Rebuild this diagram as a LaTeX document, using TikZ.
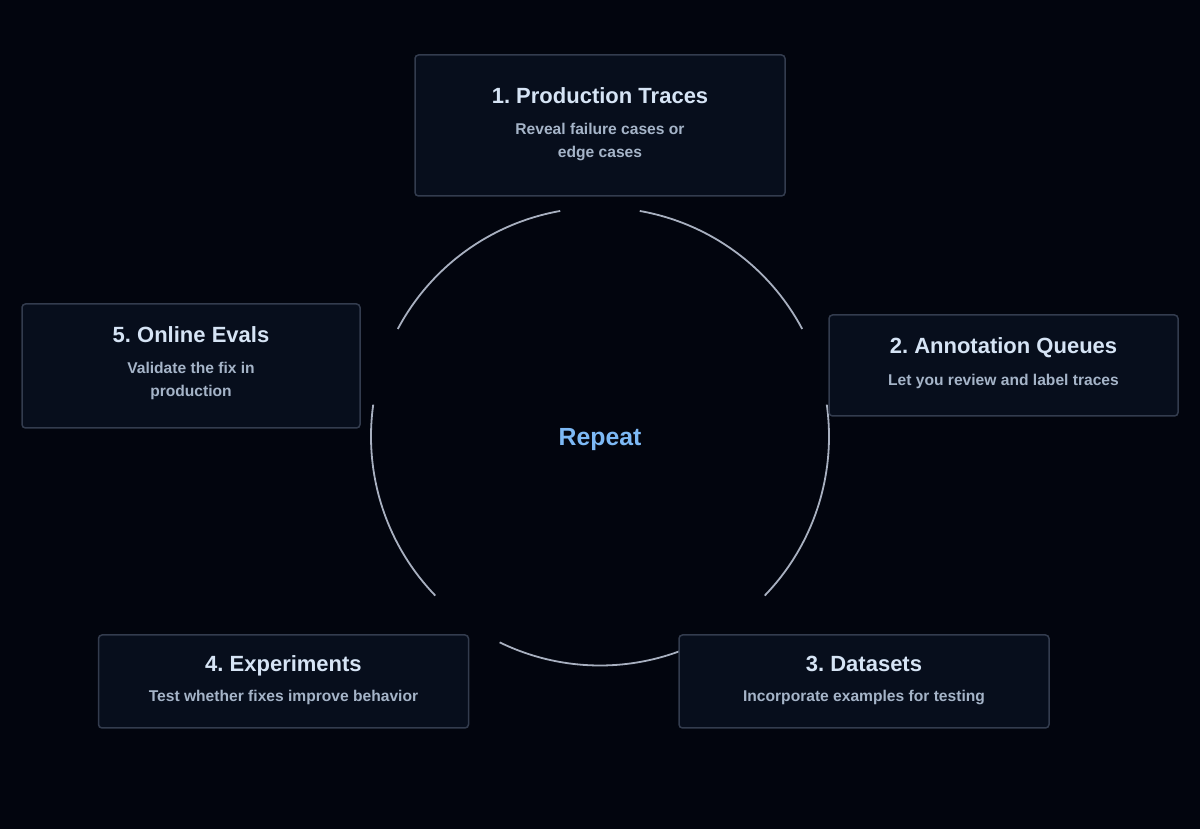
\documentclass[tikz,border=0pt]{standalone}
\usepackage{fontspec}
\setmainfont{Liberation Sans}
\frenchspacing
\definecolor{pagebg}{HTML}{02050E}
\definecolor{boxfill}{HTML}{070E1C}
\definecolor{boxline}{HTML}{333C4E}
\definecolor{titlecol}{HTML}{D6E4F5}
\definecolor{desccol}{HTML}{A5B4C8}
\definecolor{repeatcol}{HTML}{7DB9F5}
\definecolor{arccol}{HTML}{A8B0C0}
\tikzset{
	stagebox/.style={draw=boxline, fill=boxfill, line width=1.5pt, rounded corners=3.5pt, inner sep=0pt},
	stagetitle/.style={anchor=base, text=titlecol, font=\fontsize{22}{27}\selectfont\bfseries, inner sep=0pt},
	stagedesc/.style={anchor=base, text=desccol, font=\fontsize{15.6}{23}\selectfont\bfseries, align=center, inner sep=0pt},
	cyclearc/.style={draw=arccol, line width=1.8pt},
}
\begin{document}
\begin{tikzpicture}[x=1pt,y=1pt]
	% Page
	\fill [pagebg] (0,0) rectangle (1200,829);
	\useasboundingbox (0,0) rectangle (1200,829);
	\coordinate (hub) at (600,392.5);
	% Cycle
	\foreach \a in {80,8,-64,-136,152}
		\draw [cyclearc] (hub) ++(\a:229) arc (\a:\a-52:229);
	\node [anchor=center, text=repeatcol, font=\fontsize{24.8}{27}\selectfont\bfseries, inner sep=0pt] (repeat) at (600,389) {Repeat};
	% Stages
	\node [stagebox, minimum width=370, minimum height=141] (traces) at (600,703.5) {};
	\node [stagetitle] (tracestitle) at (600,725) {1. Production Traces};
	\node [stagedesc] (tracesdesc) at (600,671) {Reveal failure cases or\\edge cases};

	\node [stagebox, minimum width=349, minimum height=101] (queues) at (1003.5,463.5) {};
	\node [stagetitle] (queuestitle) at (1003.5,475) {2. Annotation Queues};
	\node [stagedesc] (queuesdesc) at (1003.5,443.5) {Let you review and label traces};

	\node [stagebox, minimum width=370, minimum height=93] (datasets) at (864,147.5) {};
	\node [stagetitle] (datasetstitle) at (864,157.5) {3. Datasets};
	\node [stagedesc] (datasetsdesc) at (864,127.5) {Incorporate examples for testing};

	\node [stagebox, minimum width=370, minimum height=93] (experiments) at (283.5,147.5) {};
	\node [stagetitle] (experimentstitle) at (283.5,157.5) {4. Experiments};
	\node [stagedesc] (experimentsdesc) at (283.5,127.5) {Test whether fixes improve behavior};

	\node [stagebox, minimum width=338, minimum height=124] (evals) at (191,463) {};
	\node [stagetitle] (evalstitle) at (191,486) {5. Online Evals};
	\node [stagedesc] (evalsdesc) at (191,432) {Validate the fix in\\production};
\end{tikzpicture}
\end{document}
